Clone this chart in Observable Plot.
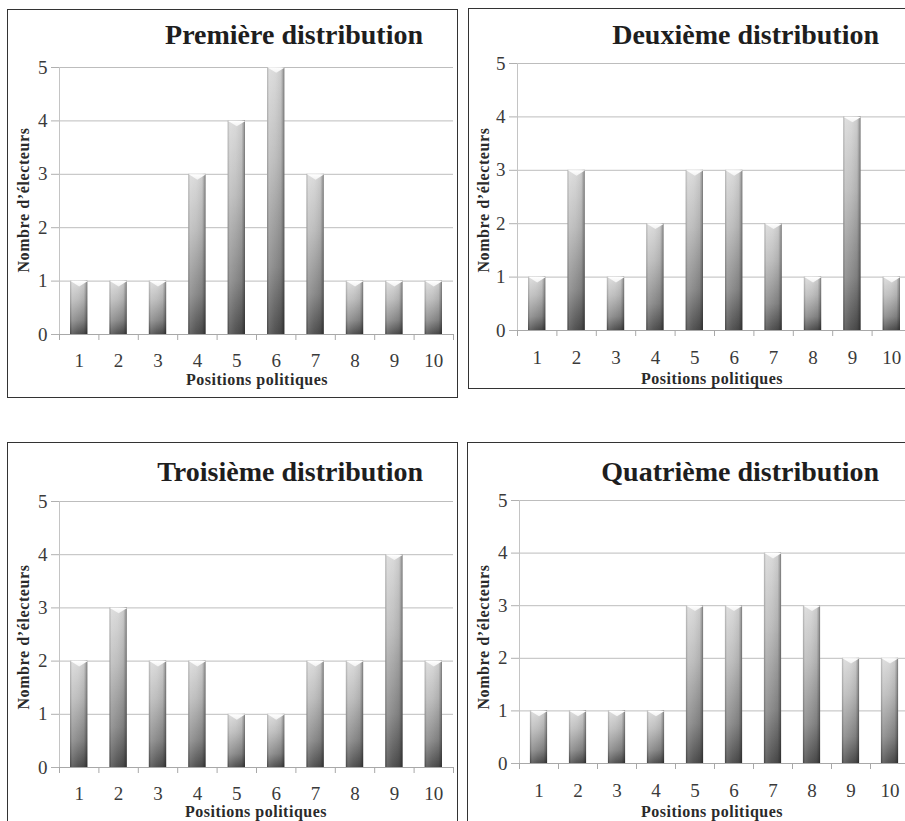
<!DOCTYPE html>
<html>
<head>
<meta charset="utf-8">
<script src="https://cdn.jsdelivr.net/npm/d3@7"></script>
<script src="https://cdn.jsdelivr.net/npm/@observablehq/plot@0.6"></script>
<style>
  html, body { margin: 0; padding: 0; background: #fff; overflow: hidden; }
  #root { position: relative; width: 905px; height: 821px; overflow: hidden; background: #fff; }
  .box { position: absolute; border: 1.5px solid #333; box-sizing: border-box; }
  .plot { position: absolute; }
  #overlay { position: absolute; left: 0; top: 0; pointer-events: none; }
</style>
</head>
<body>
<div id="root"></div>
<script>
// ---- data ----
const positions = [1, 2, 3, 4, 5, 6, 7, 8, 9, 10];
const dist1 = [1, 1, 1, 3, 4, 5, 3, 1, 1, 1];
const dist2 = [1, 3, 1, 2, 3, 3, 2, 1, 4, 1];
const dist3 = [2, 3, 2, 2, 1, 1, 2, 2, 4, 2];
const dist4 = [1, 1, 1, 1, 3, 3, 4, 3, 2, 2];
const titles = ["Première distribution", "Deuxième distribution", "Troisième distribution", "Quatrième distribution"];
const yTicks = [0, 1, 2, 3, 4, 5];
const xLabel = "Positions politiques";
const yLabel = "Nombre d’électeurs";

// ---- layout (page pixels) ----
const layout = [
  {box: [7, 9, 451, 389], plot: [59, 453, 67, 334], title: [423, 44], xl: [257, 385], yl: [23, 200], pad: 19},
  {box: [468, 8, 460, 381], plot: [517, 911, 63, 330], title: [879, 44], xl: [712, 384], yl: [483, 200], pad: 20},
  {box: [7, 442, 451, 400], plot: [59, 453, 501, 767], title: [423, 481], xl: [256, 817], yl: [23, 637], pad: 19},
  {box: [467, 442, 460, 400], plot: [519, 909, 500, 763], title: [879, 481], xl: [712, 817], yl: [483, 637], pad: 20}
];
const dists = [dist1, dist2, dist3, dist4];

const root = document.getElementById("root");
const NS = "http://www.w3.org/2000/svg";

const boundaries = positions.map(p => p - 0.5).concat([positions[positions.length - 1] + 0.5]);

// custom "notch" symbol: flat top, pointing down
const notch = {
  draw(ctx, size) {
    const w = Math.sqrt(size / Math.PI);
    ctx.moveTo(-w, 0);
    ctx.lineTo(w, 0);
    ctx.lineTo(0, w * 0.62);
    ctx.closePath();
  }
};

dists.forEach((vals, k) => {
  const L = layout[k];
  const [bl, bt, bw, bh] = L.box;
  const [px0, px1, py0, py1] = L.plot;
  const data = positions.map((p, i) => ({pos: p, count: vals[i]}));
  const step = (px1 - px0) / positions.length;
  const inset = step * 0.28;
  const half = (step - 2 * inset) / 2;

  const box = document.createElement("div");
  box.className = "box";
  Object.assign(box.style, {left: bl + "px", top: bt + "px", width: bw + "px", height: bh + "px"});
  root.appendChild(box);

  const defs = () => {
    const g = document.createElementNS(NS, "defs");
    g.innerHTML = `
      <linearGradient id="gv${k}" x1="0" y1="0" x2="0" y2="1">
        <stop offset="0" stop-color="#d9d9d9"/>
        <stop offset="0.35" stop-color="#bababa"/>
        <stop offset="0.75" stop-color="#858585"/>
        <stop offset="1" stop-color="#4a4a4a"/>
      </linearGradient>
      <linearGradient id="gh${k}" x1="0" y1="0" x2="1" y2="0">
        <stop offset="0" stop-color="#000" stop-opacity="0.18"/>
        <stop offset="0.12" stop-color="#fff" stop-opacity="0.15"/>
        <stop offset="0.45" stop-color="#fff" stop-opacity="0.05"/>
        <stop offset="0.8" stop-color="#000" stop-opacity="0.06"/>
        <stop offset="0.92" stop-color="#000" stop-opacity="0.25"/>
        <stop offset="1" stop-color="#000" stop-opacity="0.45"/>
      </linearGradient>
      <linearGradient id="gn${k}" x1="0" y1="0" x2="0" y2="1">
        <stop offset="0" stop-color="#ffffff"/>
        <stop offset="1" stop-color="#f2f2f2"/>
      </linearGradient>`;
    return g;
  };

  const chart = Plot.plot({
    width: bw,
    height: bh,
    marginLeft: px0 - bl,
    marginRight: bl + bw - px1,
    marginTop: py0 - bt,
    marginBottom: bt + bh - py1,
    style: {fontFamily: "'Liberation Serif', serif", fontSize: "19px", background: "transparent", overflow: "visible"},
    x: {domain: [boundaries[0], boundaries[boundaries.length - 1]], axis: null},
    y: {domain: [0, 5], axis: null},
    marks: [
      defs,
      Plot.gridY(yTicks, {stroke: "#bdbdbd", strokeOpacity: 1}),
      Plot.ruleX([boundaries[0]], {stroke: "#c4c4c4"}),
      Plot.axisY({ticks: yTicks, tickSize: 8, tickPadding: 4, stroke: "#b0b0b0", fill: "#3a3a3a", fontSize: 19, tickFormat: d => String(d), label: null}),
      Plot.ruleY([0], {stroke: "#a8a8a8"}),
      Plot.axisX({ticks: boundaries, tickSize: 6, tickFormat: () => "", stroke: "#a8a8a8", label: null}),
      Plot.axisX({ticks: positions, tickSize: 0, tickPadding: L.pad, fill: "#3a3a3a", fontSize: 19, tickFormat: d => String(d), label: null}),
      Plot.rectY(data, {x1: d => d.pos - 0.5, x2: d => d.pos + 0.5, y: "count", insetLeft: inset, insetRight: inset, fill: `url(#gv${k})`}),
      Plot.rectY(data, {x1: d => d.pos - 0.5, x2: d => d.pos + 0.5, y: "count", insetLeft: inset, insetRight: inset, fill: `url(#gh${k})`}),
      Plot.dot(data, {x: "pos", y: "count", symbol: notch, r: half, fill: `url(#gn${k})`, stroke: "none"})
    ]
  });
  chart.classList.add("plot");
  chart.style.left = bl + "px";
  chart.style.top = bt + "px";
  root.appendChild(chart);
});

// text overlay (titles and axis labels)
const ov = document.createElementNS(NS, "svg");
ov.setAttribute("id", "overlay");
ov.setAttribute("width", 905);
ov.setAttribute("height", 821);
layout.forEach((L, k) => {
  const t = document.createElementNS(NS, "text");
  t.setAttribute("x", L.title[0]);
  t.setAttribute("y", L.title[1]);
  t.setAttribute("text-anchor", "end");
  t.setAttribute("font-family", "'Liberation Serif', serif");
  t.setAttribute("font-weight", "bold");
  t.setAttribute("font-size", 28);
  t.setAttribute("fill", "#1e1e1e");
  t.textContent = titles[k];
  ov.appendChild(t);

  const xl = document.createElementNS(NS, "text");
  xl.setAttribute("x", L.xl[0]);
  xl.setAttribute("y", L.xl[1]);
  xl.setAttribute("text-anchor", "middle");
  xl.setAttribute("font-family", "'Liberation Serif', serif");
  xl.setAttribute("font-weight", "bold");
  xl.setAttribute("font-size", 16);
  xl.setAttribute("letter-spacing", "0.5");
  xl.setAttribute("fill", "#2a2a2a");
  xl.textContent = xLabel;
  ov.appendChild(xl);

  const yl = document.createElementNS(NS, "text");
  yl.setAttribute("transform", `translate(${L.yl[0]},${L.yl[1]}) rotate(-90)`);
  yl.setAttribute("text-anchor", "middle");
  yl.setAttribute("dominant-baseline", "central");
  yl.setAttribute("font-family", "'Liberation Serif', serif");
  yl.setAttribute("font-weight", "bold");
  yl.setAttribute("font-size", 16);
  yl.setAttribute("letter-spacing", "0.6");
  yl.setAttribute("fill", "#2a2a2a");
  yl.textContent = yLabel;
  ov.appendChild(yl);
});
root.appendChild(ov);
</script>
</body>
</html>
